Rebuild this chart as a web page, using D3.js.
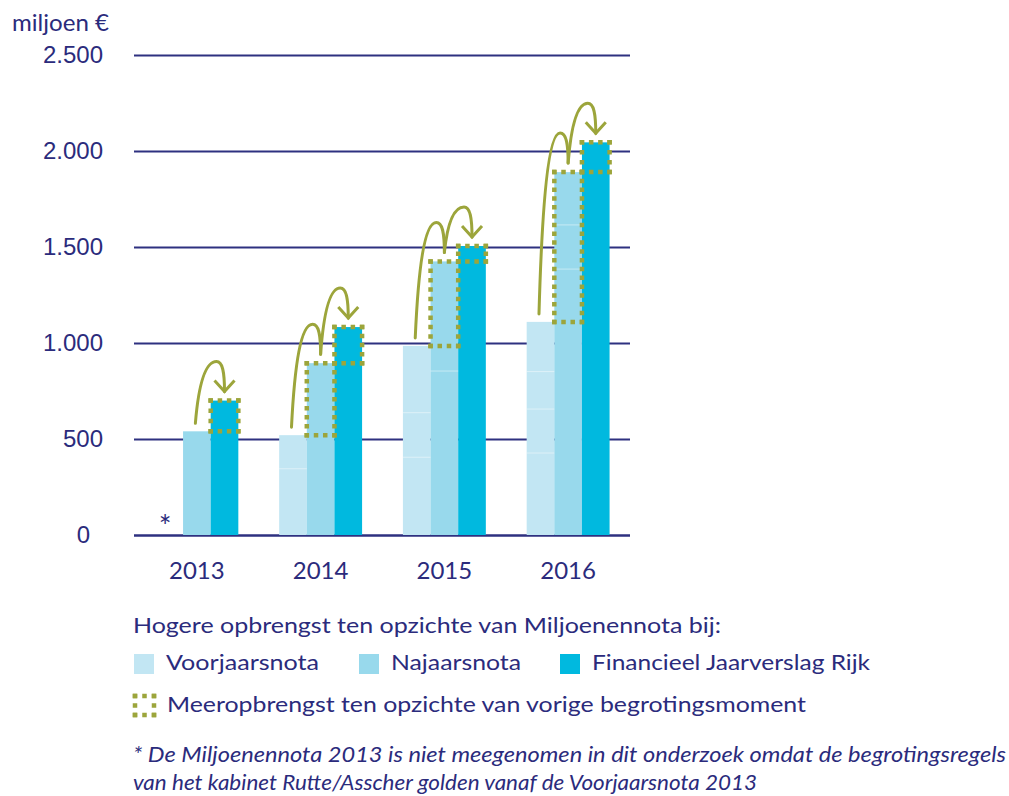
<!DOCTYPE html>
<html>
<head>
<meta charset="utf-8">
<script src="https://cdn.jsdelivr.net/npm/d3@7"></script>
<style>
  body { margin: 0; background: #fff; }
  svg { display: block; font-family: Lato, "Open Sans", sans-serif; }
</style>
</head>
<body>
<svg id="chart" width="1009" height="796"></svg>
<script>
// data (miljoen euro)
const years = ["2013", "2014", "2015", "2016"];
const series = ["Voorjaarsnota", "Najaarsnota", "Financieel Jaarverslag Rijk"];
const voorjaarsnota = [null, 520, 985, 1110];
const najaarsnota = [540, 895, 1425, 1890];
const jaarverslag = [700, 1083, 1505, 2045];
const yTicks = [0, 500, 1000, 1500, 2000, 2500];
// faint seams inside the bars
const voorjaarSeams = [[], [345], [405, 637], [427, 656, 851]];
const najaarSeams = [[], [], [854], [1385, 1615]];

const colors = ["#c2e6f3", "#98d9ec", "#00b9df"];
const navy = "#2b2b7c";
const green = "#9ca53b";

const svg = d3.select("#chart");
const nl = d3.formatLocale({decimal: ",", thousands: ".", grouping: [3], currency: ["€", ""]});

const y = d3.scaleLinear().domain([0, 2500]).range([535, 55]);
const x0 = d3.scaleBand().domain(years).range([135, 630]).paddingInner(0.33).paddingOuter(0.165);
const x1 = d3.scaleBand().domain(series).range([0, x0.bandwidth()]);

// unit label
svg.append("text").attr("x", 12).attr("y", 31)
    .attr("textLength", 97).attr("lengthAdjust", "spacingAndGlyphs")
    .attr("fill", navy).style("font-size", "23px").text("miljoen €");

// y axis with gridlines
const yAxis = svg.append("g").attr("transform", "translate(134,0)")
    .call(d3.axisLeft(y).tickValues(yTicks).tickSize(-496).tickPadding(31).tickFormat(nl.format(",")));
yAxis.select(".domain").remove();
yAxis.selectAll(".tick line").attr("stroke", "#2e3180").attr("stroke-width", d => d === 0 ? 2.6 : 2);
yAxis.selectAll(".tick text").attr("fill", navy).style("font-size", "24px")
    .attr("x", d => d === 0 ? -44 : -31);

// year labels
svg.append("g").selectAll("text")
    .data(years)
    .join("text")
    .attr("x", d => x0(d) + x0.bandwidth() / 2)
    .attr("y", 579)
    .attr("text-anchor", "middle")
    .attr("fill", navy).style("font-size", "24px")
    .text(d => d);

// bar data
const rows = years.map((yr, i) => ({
    year: yr,
    values: [voorjaarsnota[i], najaarsnota[i], jaarverslag[i]],
    seams: [voorjaarSeams[i], najaarSeams[i], []]
}));

const bars = [];
rows.forEach(r => r.values.forEach((v, j) => {
    if (v !== null) bars.push({year: r.year, s: series[j], j: j, v: v, seams: r.seams[j]});
}));

const barG = svg.append("g");
barG.selectAll("rect")
    .data(bars)
    .join("rect")
    .attr("x", d => x0(d.year) + x1(d.s))
    .attr("y", d => y(d.v))
    .attr("width", x1.bandwidth())
    .attr("height", d => y(0) - y(d.v))
    .attr("fill", d => colors[d.j]);

const seams = [];
bars.forEach(b => b.seams.forEach(s => seams.push({year: b.year, s: b.s, v: s})));
barG.selectAll("line")
    .data(seams)
    .join("line")
    .attr("x1", d => x0(d.year) + x1(d.s))
    .attr("x2", d => x0(d.year) + x1(d.s) + x1.bandwidth())
    .attr("y1", d => y(d.v)).attr("y2", d => y(d.v))
    .attr("stroke", "#fff").attr("stroke-opacity", 0.45).attr("stroke-width", 1);

// asterisk for 2013 voorjaarsnota
svg.append("text")
    .attr("x", x0("2013") + x1("Voorjaarsnota") + x1.bandwidth() / 2 - 4)
    .attr("y", 537).attr("text-anchor", "middle")
    .attr("fill", navy).style("font-size", "30px").text("*");

// dotted outline made of separate sides so every corner gets a dot
function dottedBox(g, x, yTop, w, h, sw, dot) {
    const half = sw / 2;
    const sides = [
        [x - half, yTop, x + w + half, yTop],
        [x - half, yTop + h, x + w + half, yTop + h],
        [x, yTop - half, x, yTop + h + half],
        [x + w, yTop - half, x + w, yTop + h + half]
    ];
    sides.forEach(s => {
        const len = Math.hypot(s[2] - s[0], s[3] - s[1]);
        const n = Math.max(2, Math.round((len + dot) / (dot * 2)));
        const gap = (len - n * dot) / (n - 1);
        g.append("line")
            .attr("x1", s[0]).attr("y1", s[1]).attr("x2", s[2]).attr("y2", s[3])
            .attr("stroke", green).attr("stroke-width", sw)
            .attr("stroke-dasharray", `${dot} ${gap}`);
    });
}

const boxG = svg.append("g");
const arrowG = svg.append("g").attr("fill", "none").attr("stroke", green)
    .attr("stroke-width", 3).attr("stroke-linecap", "round");

rows.forEach(r => {
    const chain = r.values.map((v, j) => ({v: v, s: series[j]})).filter(d => d.v !== null);
    let start = null;
    for (let k = 1; k < chain.length; k++) {
        const prev = chain[k - 1], cur = chain[k];
        const bx = x0(r.year) + x1(cur.s);
        dottedBox(boxG, bx, y(cur.v), x1.bandwidth(), y(prev.v) - y(cur.v), 4.5, 4.5);

        if (start === null) start = [x0(r.year) + x1(prev.s) + x1.bandwidth() / 2 - 1.5, y(prev.v) - 8];
        const end = [bx + x1.bandwidth() / 2, y(cur.v) - 9];
        const pk = [end[0] - 8, end[1] - 30];
        const p = d3.path();
        p.moveTo(start[0], start[1]);
        p.bezierCurveTo(start[0] + 0.15 * (pk[0] - start[0]), start[1] - 0.62 * (start[1] - pk[1]),
            pk[0] - 0.55 * (pk[0] - start[0]), pk[1], pk[0], pk[1]);
        p.bezierCurveTo(pk[0] + 6, pk[1], end[0], pk[1] + 10, end[0], end[1]);
        arrowG.append("path").attr("d", p.toString());
        if (k === chain.length - 1) {
            arrowG.append("path")
                .attr("stroke-linejoin", "miter").attr("stroke-linecap", "butt")
                .attr("d", `M${end[0] - 10},${end[1] - 11}L${end[0]},${end[1]}L${end[0] + 10},${end[1] - 11}`);
        }
        start = end;
    }
});

// legend
const legend = svg.append("g").attr("fill", navy).style("font-size", "21px");
legend.append("text").attr("x", 133).attr("y", 633)
    .attr("textLength", 588).attr("lengthAdjust", "spacingAndGlyphs")
    .text("Hogere opbrengst ten opzichte van Miljoenennota bij:");

const legendX = [134, 359, 560];
const legendLen = [153, 130, 278];
const items = legend.selectAll(".item")
    .data(series)
    .join("g")
    .attr("class", "item")
    .attr("transform", (d, i) => `translate(${legendX[i]},654)`);
items.append("rect").attr("width", 20).attr("height", 20).attr("fill", (d, i) => colors[i]);
items.append("text").attr("x", 32).attr("y", 16)
    .attr("textLength", (d, i) => legendLen[i]).attr("lengthAdjust", "spacingAndGlyphs")
    .text(d => d);

dottedBox(legend.append("g"), 135, 696, 19, 19, 4.5, 4.5);
legend.append("text").attr("x", 167).attr("y", 712)
    .attr("textLength", 639).attr("lengthAdjust", "spacingAndGlyphs")
    .text("Meeropbrengst ten opzichte van vorige begrotingsmoment");

// footnote
const notes = [
    "* De Miljoenennota 2013 is niet meegenomen in dit onderzoek omdat de begrotingsregels",
    "van het kabinet Rutte/Asscher golden vanaf de Voorjaarsnota 2013"
];
const noteLen = [873, 624];
svg.append("g").selectAll("text")
    .data(notes)
    .join("text")
    .attr("x", 133)
    .attr("y", (d, i) => 762 + i * 28)
    .attr("textLength", (d, i) => noteLen[i]).attr("lengthAdjust", "spacingAndGlyphs")
    .attr("fill", navy).style("font-size", "21px").style("font-style", "italic")
    .text(d => d);
</script>
</body>
</html>
